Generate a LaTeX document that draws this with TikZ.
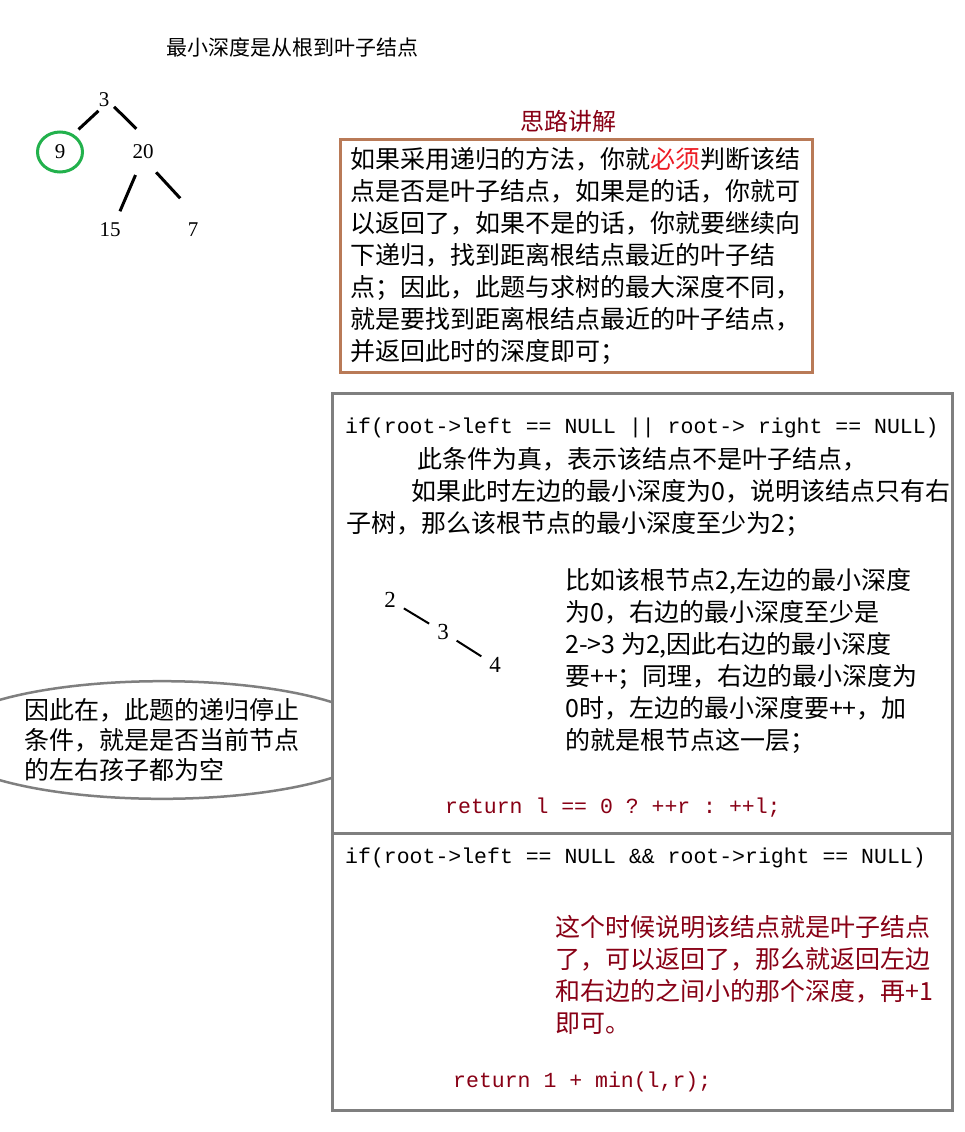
\documentclass[tikz,border=0pt]{standalone}
\usepackage{fontspec}
\setmainfont{Liberation Serif}
\setmonofont{Liberation Mono}
\newfontfamily\cjk{Noto Sans CJK SC}
\usetikzlibrary{shapes.geometric}
\definecolor{paintbrown}{RGB}{185,122,87}
\definecolor{paintgreen}{RGB}{34,177,76}
\definecolor{paintgray}{RGB}{127,127,127}
\definecolor{darkred}{RGB}{136,0,21}
\definecolor{brightred}{RGB}{237,28,36}
\tikzset{
  cn/.style={inner sep=0pt, anchor=north west, align=left, font=\cjk\fontsize{25}{32}\selectfont},
  code/.style={inner sep=0pt, anchor=base west, font=\ttfamily\fontsize{21.5}{32}\selectfont},
  num/.style={circle, inner sep=0pt, font=\fontsize{21}{21}\selectfont},
  edge/.style={line width=3pt},
  framebox/.style={draw=paintgray, line width=3pt, fill=white},
}

\begin{document}
\begin{tikzpicture}[x=1pt, y=-1pt]
	%%%%% START %%%%%
	\useasboundingbox[fill=white] (0,0) rectangle (965,1132);
	
	\node[cn, font=\cjk\fontsize{21}{26}\selectfont] (title) at (166,38) {最小深度是从根到叶子结点};
	
	%%%%% tree %%%%%
	\node[num, minimum size=24] (n3) at (104,100) {3};
	\node[ellipse, draw=paintgreen, line width=3pt, inner sep=0pt, minimum width=45, minimum height=40, font=\fontsize{21}{21}\selectfont] (n9) at (60,152) {9};
	\node[num, minimum size=48] (n20) at (143,152) {20};
	\node[num, minimum size=42] (n15) at (110,230) {15};
	\node[num, minimum size=68] (n7) at (193,230) {7};
	\draw[edge, shorten >=7pt] (n3.-117) -- (n9.53);
	\draw[edge] (n3.-34) -- (n20.106);
	\draw[edge] (n20.-108) -- (n15.62);
	\draw[edge] (n20.-57) -- (n7.112);
	
	%%%%% idea box %%%%%
	\node[cn, font=\cjk\fontsize{24}{24}\selectfont, text=darkred] (idea) at (520,110) {思路讲解};
	\draw[draw=paintbrown, line width=3pt] (340,139) rectangle (812,372);
	\node[cn] (ideatext) at (350,147) {如果采用递归的方法，你就\textcolor{brightred}{必须}判断该结\\
		点是否是叶子结点，如果是的话，你就可\\
		以返回了，如果不是的话，你就要继续向\\
		下递归，找到距离根结点最近的叶子结\\
		点；因此，此题与求树的最大深度不同，\\
		就是要找到距离根结点最近的叶子结点，\\
		并返回此时的深度即可；};
	
	%%%%% callout %%%%%
	\node[ellipse, draw=paintgray, line width=2.5pt, fill=white, minimum width=444, minimum height=116, inner sep=0pt,
		align=left, font=\cjk\fontsize{25}{30}\selectfont] (stopnote) at (162,740) {因此在，此题的递归停止\\
		条件，就是是否当前节点\\
		的左右孩子都为空};
	
	%%%%% one child empty %%%%%
	\draw[framebox] (332,393) rectangle (952,833);
	\node[code] (orcase) at (345,433) {if(root->left == NULL || root-> right == NULL)};
	\node[cn] (ortext) at (346,447) {\hspace*{71pt}此条件为真，表示该结点不是叶子结点，\\
		\hspace*{65pt}如果此时左边的最小深度为0，说明该结点只有右\\
		子树，那么该根节点的最小深度至少为2；};
	\node[num, minimum size=32, font=\fontsize{23}{23}\selectfont] (m2) at (390,600) {2};
	\node[num, minimum size=32, font=\fontsize{23}{23}\selectfont] (m3) at (443,632) {3};
	\node[num, minimum size=32, font=\fontsize{23}{23}\selectfont] (m4) at (495,665) {4};
	\draw[line width=2pt] (m2) -- (m3);
	\draw[line width=2pt] (m3) -- (m4);
	\node[cn] (example) at (565,568) {比如该根节点2,左边的最小深度\\
		为0，右边的最小深度至少是\\
		2->3 为2,因此右边的最小深度\\
		要++；同理，右边的最小深度为\\
		0时，左边的最小深度要++，加\\
		的就是根节点这一层；};
	\node[code, text=darkred] (orreturn) at (445,813) {return l == 0 ? ++r : ++l;};
	
	%%%%% leaf %%%%%
	\draw[framebox] (332,833) rectangle (952,1110);
	\node[code] (andcase) at (345,863) {if(root->left == NULL \&\& root->right == NULL)};
	\node[cn, text=darkred] (leaftext) at (555,915) {这个时候说明该结点就是叶子结点\\
		了，可以返回了，那么就返回左边\\
		和右边的之间小的那个深度，再+1\\
		即可。};
	\node[code, text=darkred] (andreturn) at (453,1087) {return 1 + min(l,r);};
	%%%%% END %%%%%
\end{tikzpicture}
\end{document}
